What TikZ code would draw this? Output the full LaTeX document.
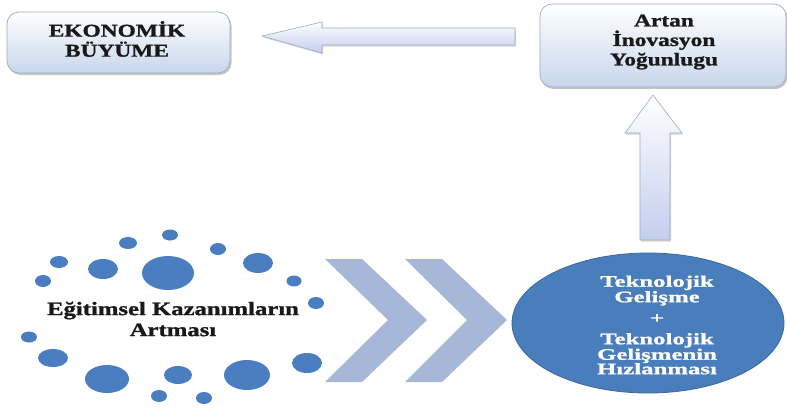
\documentclass[tikz,border=0pt]{standalone}
\usepackage{fontspec}
\setmainfont{Liberation Serif}
\newfontfamily\wideserif[FakeStretch=1.3,BoldFeatures={FakeBold=1.2}]{Liberation Serif}
\newfontfamily\ellserif[FakeStretch=1.55,BoldFeatures={FakeBold=1.2}]{Liberation Serif}
\usetikzlibrary{shapes.geometric,shadows,calc}
\definecolor{dotblue}{RGB}{74,126,193}
\definecolor{ellblue}{RGB}{74,125,187}
\definecolor{ellborder}{RGB}{60,105,160}
\definecolor{boxbottom}{RGB}{200,214,236}
\definecolor{boxborder}{RGB}{160,170,188}
\definecolor{arrowbottom}{RGB}{196,206,238}
\definecolor{chevron}{RGB}{167,183,216}
\definecolor{txt}{RGB}{25,25,25}
\tikzset{
  box/.style={draw=boxborder, line width=0.7pt, rounded corners=12pt,
    top color=white, bottom color=boxbottom,
    drop shadow={shadow xshift=1.5pt, shadow yshift=-2pt, fill=black, opacity=0.22},
    inner sep=0pt},
  boxtext/.style={text=txt, align=center, inner sep=0pt},
  blockarrow/.style={draw=boxborder, line width=0.6pt, top color=white, bottom color=arrowbottom,
    drop shadow={shadow xshift=1pt, shadow yshift=-1.5pt, fill=black, opacity=0.15}},
  chev/.style={fill=chevron, draw=none},
  dot/.style={fill=dotblue, draw=none},
  bigell/.style={ellipse, fill=ellblue, draw=ellborder, line width=0.8pt, inner sep=0pt,
    minimum width=272pt, minimum height=140pt}
}
\begin{document}
\begin{tikzpicture}[x=1pt,y=-1pt]
\useasboundingbox (0,0) rectangle (787,408);

% boxes
\node[box, minimum width=223pt, minimum height=61pt] (eko) at (118.5,42.5) {};
\node[boxtext, font=\wideserif\bfseries\fontsize{18}{20}\selectfont] (ekotext) at (117,39) {EKONOMİK\\BÜYÜME};

\node[box, minimum width=246pt, minimum height=83pt] (artan) at (663,45.5) {};
\node[boxtext, font=\wideserif\bfseries\fontsize{18}{19.5}\selectfont] (artantext) at (664,42) {Artan\\İnovasyon\\Yoğunlugu};

% ellipse
\node[bigell] (tek) at (648,323) {};
\node[boxtext, text=white, font=\ellserif\bfseries\fontsize{16}{14.5}\selectfont] (tektext) at (657,325)
  {Teknolojik\\Gelişme\\[6.5pt]+\\[6.5pt]Teknolojik\\Gelişmenin\\Hızlanması};

% block arrow: artan -> eko
\coordinate (lTip) at (262,36);
\coordinate (lTail) at (515,36.5);
\path[blockarrow] (lTip) -- (322,22) -- (322,28) -- (lTail |- 0,28) -- (lTail |- 0,45)
  -- (322,45) -- (322,53) -- cycle;

% block arrow: tek -> artan
\coordinate (uTip) at (653,95);
\coordinate (uTail) at (655,240);
\path[blockarrow] (uTip) -- (682,133) -- (670,133) -- (670,0 |- uTail) -- (640,0 |- uTail)
  -- (640,133) -- (625,133) -- cycle;

% chevrons
\path[chev] (325,259) -- (362,259) -- (427,320) -- (362,382) -- (325,382) -- (388,320) -- cycle;
\path[chev] (405,259) -- (442,259) -- (507,320) -- (442,382) -- (405,382) -- (467,320) -- cycle;

% dots
\foreach \x/\y/\rx/\ry in {170/235/8/5.5, 128/243/9/6, 218/249/8/6, 59/262/9/6,
  103/269/15/10, 168/273/26/17, 258/263/15/10, 43/281/8/6, 294/281/7.5/5.5,
  316/303/8/6, 29/337/8/5.5, 53/358/15/9, 307/363/15/10, 107/379/22/14,
  178/375/14/9, 247/375/23/15, 159/396/8/6, 204/398/8/6}
  \fill[dot] (\x,\y) ellipse [x radius=\rx pt, y radius=\ry pt];

\node[boxtext, font=\wideserif\bfseries\fontsize{19}{21}\selectfont] (egit) at (173,319)
  {Eğitimsel Kazanımların\\Artması};
\end{tikzpicture}
\end{document}
